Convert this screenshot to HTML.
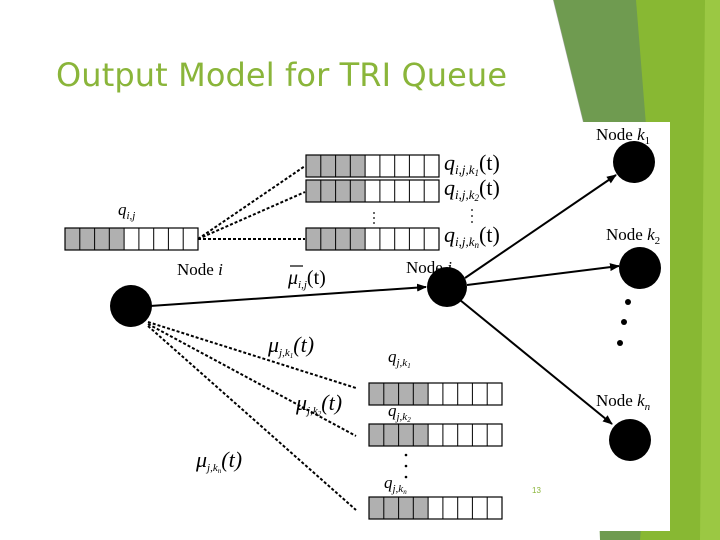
<!DOCTYPE html>
<html><head><meta charset="utf-8"><style>
body{margin:0;width:720px;height:540px;overflow:hidden;background:#fff}
svg{display:block}
.t{font-family:"Liberation Serif",serif;fill:#000}
</style></head><body>
<svg width="720" height="540" viewBox="0 0 720 540" xmlns="http://www.w3.org/2000/svg">
<defs>
<marker id="ar" markerWidth="10" markerHeight="8" refX="9" refY="4" orient="auto" markerUnits="userSpaceOnUse" viewBox="0 0 10 8">
<path d="M0,0 L10,4 L0,8 z" fill="#000"/></marker>
<g id="q">
<rect x="0" y="0" width="59" height="22" fill="#b0b0b0"/>
<rect x="0" y="0" width="133" height="22" fill="none" stroke="#000" stroke-width="1.2"/>
<path d="M14.8,0v22M29.6,0v22M44.3,0v22M59.1,0v22M73.9,0v22M88.7,0v22M103.4,0v22M118.2,0v22" stroke="#000" stroke-width="1"/>
</g>
</defs>
<polygon points="553,0 720,0 720,540 600,540 585,130" fill="#6f9b50"/>
<polygon points="636,0 720,0 720,540 640,540 660,300" fill="#88b833"/>
<polygon points="705,0 720,0 720,540 700,540" fill="#9bc843"/>
<line x1="553" y1="0" x2="583" y2="122" stroke="#aaa" stroke-width="1"/>
<rect x="60" y="122" width="610" height="409" fill="#fff"/>
<rect x="0" y="0" width="553" height="122" fill="#fff"/>
<polygon points="553,0 583,122 553,122" fill="#fff"/>
<text x="56" y="86" font-family="'DejaVu Sans','Liberation Sans',sans-serif" font-size="32" fill="#8ab53a" textLength="451">Output Model for TRI Queue</text>

<use href="#q" x="65" y="228"/>
<use href="#q" x="306" y="155"/>
<use href="#q" x="306" y="180"/>
<use href="#q" x="306" y="228"/>
<use href="#q" x="369" y="383"/>
<use href="#q" x="369" y="424"/>
<use href="#q" x="369" y="497"/>

<g stroke="#000" stroke-width="2" stroke-dasharray="3,2" fill="none">
<line x1="198" y1="239" x2="305" y2="166"/>
<line x1="198" y1="239" x2="305" y2="192"/>
<line x1="198" y1="239" x2="305" y2="239"/>
<line x1="148" y1="322" x2="356" y2="388"/>
<line x1="148" y1="324" x2="356" y2="436"/>
<line x1="148" y1="326" x2="356" y2="510"/>
</g>
<g fill="#000">
<circle cx="374" cy="213" r="0.9"/><circle cx="374" cy="218" r="0.9"/><circle cx="374" cy="223" r="0.9"/>
<circle cx="472" cy="210" r="0.9"/><circle cx="472" cy="216" r="0.9"/><circle cx="472" cy="222" r="0.9"/>
<circle cx="406" cy="455" r="1.3"/><circle cx="406" cy="466" r="1.3"/><circle cx="406" cy="477" r="1.3"/>
</g>

<g stroke="#000" stroke-width="2" fill="none">
<line x1="150" y1="306" x2="426" y2="287" marker-end="url(#ar)"/>
<line x1="465" y1="278" x2="616" y2="175" marker-end="url(#ar)"/>
<line x1="467" y1="285" x2="619" y2="266" marker-end="url(#ar)"/>
<line x1="460" y1="300" x2="612" y2="424" marker-end="url(#ar)"/>
</g>

<g fill="#000">
<circle cx="131" cy="306" r="21"/>
<circle cx="447" cy="287" r="20"/>
<circle cx="634" cy="162" r="21"/>
<circle cx="640" cy="268" r="21"/>
<circle cx="630" cy="440" r="21"/>
<circle cx="628" cy="302" r="3"/><circle cx="624" cy="322" r="3"/><circle cx="620" cy="343" r="3"/>
</g>

<g class="t">
<text x="596" y="140" font-size="17">Node <tspan font-style="italic">k</tspan><tspan font-size="11" dy="4">1</tspan></text>
<text x="606" y="240" font-size="17">Node <tspan font-style="italic">k</tspan><tspan font-size="11" dy="4">2</tspan></text>
<text x="596" y="406" font-size="17">Node <tspan font-style="italic">k</tspan><tspan font-size="11" dy="4" font-style="italic">n</tspan></text>
<text x="177" y="275" font-size="17">Node <tspan font-style="italic">i</tspan></text>
<text x="406" y="273" font-size="17">Node <tspan font-style="italic">j</tspan></text>
<text x="118" y="215" font-size="17" font-style="italic">q<tspan font-size="11" dy="4">i,j</tspan></text>
<text x="444" y="170" font-size="22" font-style="italic">q<tspan font-size="13" dy="4">i,j,k</tspan><tspan font-size="9" dy="2">1</tspan><tspan dy="-6" font-style="normal">(t)</tspan></text>
<text x="444" y="195" font-size="22" font-style="italic">q<tspan font-size="13" dy="4">i,j,k</tspan><tspan font-size="9" dy="2">2</tspan><tspan dy="-6" font-style="normal">(t)</tspan></text>
<text x="444" y="242" font-size="22" font-style="italic">q<tspan font-size="13" dy="4">i,j,k</tspan><tspan font-size="9" dy="2">n</tspan><tspan dy="-6" font-style="normal">(t)</tspan></text>
<line x1="290" y1="266" x2="303" y2="266" stroke="#000" stroke-width="1.2"/>
<text x="288" y="284" font-size="20" font-style="italic">μ<tspan font-size="11" dy="4">i,j</tspan><tspan dy="-4" font-style="normal">(t)</tspan></text>
<text x="268" y="352" font-size="22" font-style="italic">μ<tspan font-size="11" dy="4">j,k</tspan><tspan font-size="7" dy="2">1</tspan><tspan dy="-6">(t)</tspan></text>
<text x="296" y="410" font-size="22" font-style="italic">μ<tspan font-size="11" dy="4">j,k</tspan><tspan font-size="7" dy="2">2</tspan><tspan dy="-6">(t)</tspan></text>
<text x="196" y="467" font-size="22" font-style="italic">μ<tspan font-size="11" dy="4">j,k</tspan><tspan font-size="7" dy="2">n</tspan><tspan dy="-6">(t)</tspan></text>
<text x="388" y="362" font-size="17" font-style="italic">q<tspan font-size="11" dy="4">j,k</tspan><tspan font-size="7" dy="2">1</tspan></text>
<text x="388" y="416" font-size="17" font-style="italic">q<tspan font-size="11" dy="4">j,k</tspan><tspan font-size="7" dy="2">2</tspan></text>
<text x="384" y="488" font-size="17" font-style="italic">q<tspan font-size="11" dy="4">j,k</tspan><tspan font-size="7" dy="2">n</tspan></text>
</g>
<text x="532" y="493" font-family="'Liberation Sans',sans-serif" font-size="8" fill="#8ab53a">13</text>
</svg>
</body></html>
